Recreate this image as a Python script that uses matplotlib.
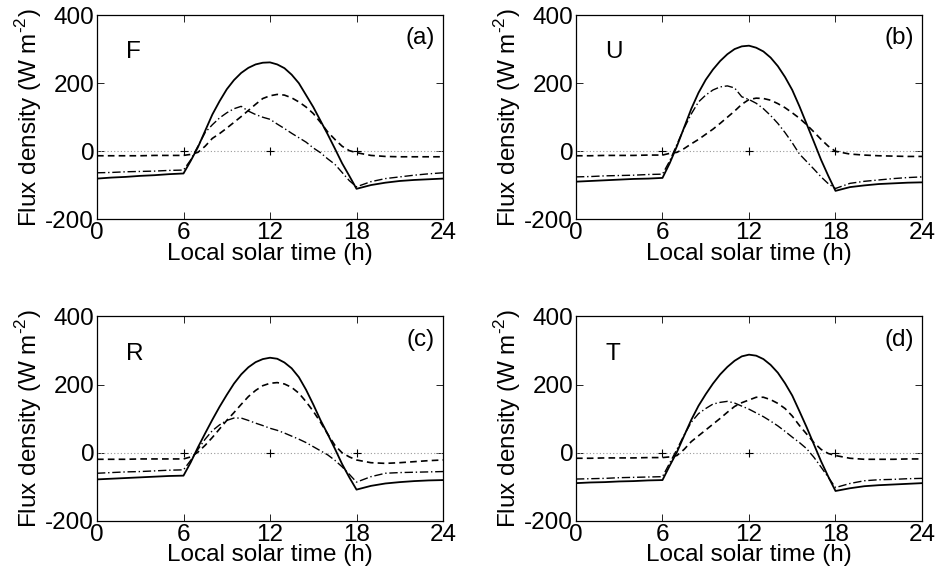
import numpy as np
import matplotlib
matplotlib.use("Agg")
import matplotlib.pyplot as plt

plt.rcParams['font.family'] = ['Liberation Sans', 'DejaVu Sans']
plt.rcParams['axes.unicode_minus'] = False
plt.rcParams['mathtext.fontset'] = 'custom'
plt.rcParams['mathtext.rm'] = 'Liberation Sans'

# hora solar local: cada hora de noche, cada media hora de día
horas = [0, 1, 2, 3, 4, 5, 6,
         6.5, 7, 7.5, 8, 8.5, 9, 9.5, 10, 10.5, 11, 11.5, 12,
         12.5, 13, 13.5, 14, 14.5, 15, 15.5, 16, 16.5, 17, 17.5, 18,
         19, 20, 21, 22, 23, 24]

# (a) F
a_solida = [-80, -77, -75, -72, -70, -67, -65,
            -28, 12, 60, 108, 147, 182, 209, 230, 245, 255, 260, 261,
            255, 244, 225, 200, 165, 130, 90, 50, 8, -35, -72, -110,
            -99, -92, -87, -84, -82, -80]
a_guion = [-13, -13, -13, -13, -12, -12, -12,
           -9, -3, 15, 38, 52, 68, 85, 102, 120, 138, 155, 163,
           167, 165, 157, 145, 130, 111, 85, 57, 35, 15, 2, -4,
           -12, -15, -16, -16, -16, -16]
a_punto = [-63, -62, -60, -59, -58, -56, -55,
           -25, 15, 55, 78, 98, 113, 125, 132, 118, 108, 100, 94,
           80, 67, 53, 40, 27, 10, -4, -22, -38, -62, -86, -104,
           -89, -80, -75, -70, -66, -63]

# (b) U
b_solida = [-89, -87, -85, -83, -81, -80, -78,
            -35, 15, 70, 125, 172, 210, 240, 265, 285, 300, 308, 310,
            304, 293, 275, 250, 218, 180, 132, 80, 28, -25, -72, -116,
            -105, -100, -96, -94, -92, -91]
b_guion = [-13, -13, -12, -12, -12, -11, -11,
           -6, -3, 8, 22, 35, 50, 65, 82, 100, 118, 138, 152,
           156, 155, 150, 140, 128, 113, 97, 78, 57, 35, 15, 0,
           -8, -11, -13, -14, -15, -15]
b_punto = [-75, -74, -72, -71, -70, -68, -67,
           -28, 20, 68, 110, 145, 165, 180, 189, 192, 186, 160, 152,
           141, 125, 105, 82, 55, 25, -8, -30, -52, -75, -95, -109,
           -94, -88, -84, -80, -77, -75]

# (c) R
c_solida = [-78, -76, -74, -72, -70, -68, -67,
            -28, 16, 57, 97, 135, 170, 203, 230, 251, 266, 275, 279,
            276, 265, 248, 222, 185, 142, 96, 55, 12, -33, -72, -108,
            -97, -90, -86, -83, -81, -80]
c_guion = [-19, -19, -19, -18, -18, -18, -18,
           -12, 2, 22, 45, 70, 95, 118, 142, 165, 183, 197, 204,
           206, 202, 192, 175, 150, 122, 90, 55, 22, 0, -12, -21,
           -29, -31, -29, -26, -23, -21]
c_punto = [-60, -58, -56, -55, -53, -51, -50,
           -22, 10, 40, 65, 82, 95, 102, 102, 95, 87, 80, 72,
           66, 58, 49, 40, 30, 18, 6, -6, -22, -41, -63, -86,
           -70, -60, -58, -57, -56, -55]

# (d) T
d_solida = [-89, -87, -86, -84, -83, -81, -80,
            -38, 2, 50, 97, 138, 172, 203, 230, 252, 270, 283, 288,
            285, 275, 258, 235, 204, 168, 122, 75, 25, -25, -70, -112,
            -104, -98, -95, -93, -91, -89]
d_guion = [-16, -16, -15, -15, -15, -14, -14,
           -12, -8, 10, 33, 50, 67, 84, 101, 119, 136, 147, 155,
           163, 163, 156, 145, 130, 108, 80, 55, 30, 10, -2, -8,
           -16, -19, -19, -19, -18, -18]
d_punto = [-77, -76, -75, -73, -72, -71, -70,
           -30, 10, 52, 90, 115, 130, 143, 148, 151, 146, 137, 128,
           117, 106, 93, 79, 63, 46, 30, 12, -13, -42, -72, -102,
           -90, -82, -79, -78, -76, -75]

paneles = [
    ("F", "(a)", a_solida, a_guion, a_punto),
    ("U", "(b)", b_solida, b_guion, b_punto),
    ("R", "(c)", c_solida, c_guion, c_punto),
    ("T", "(d)", d_solida, d_guion, d_punto),
]

# posiciones de los ejes en fracción de figura
posiciones = [
    [0.1033, 0.6196, 0.3685, 0.3544],
    [0.6134, 0.6196, 0.3685, 0.3544],
    [0.1033, 0.0971, 0.3685, 0.3544],
    [0.6134, 0.0971, 0.3685, 0.3544],
]

fs = 17.5
fig = plt.figure(figsize=(9.39, 5.77), dpi=100)

for (nombre, letra, sol, gui, pun), pos in zip(paneles, posiciones):
    ax = fig.add_axes(pos)
    ax.plot([0, 24], [0, 0], color='0.6', linestyle=(0, (1, 2)), linewidth=0.8)
    ax.plot([6, 12, 18], [0, 0, 0], linestyle='none', marker='+', color='k',
            markersize=6, markeredgewidth=0.8)
    ax.plot(horas, sol, color='k', linewidth=1.3)
    ax.plot(horas, gui, color='k', linewidth=1.2, linestyle=(0, (4, 2.5)))
    ax.plot(horas, pun, color='k', linewidth=1.0, linestyle=(0, (6, 2, 1, 2)))
    ax.set_xlim(0, 24)
    ax.set_ylim(-200, 400)
    ax.set_xticks([0, 6, 12, 18, 24])
    ax.set_yticks([-200, 0, 200, 400])
    ax.tick_params(direction='in', top=True, right=True, length=5, width=0.6,
                   labelsize=fs, pad=2)
    for s in ax.spines.values():
        s.set_linewidth(0.9)
    ax.set_xlabel("Local solar time (h)", fontsize=fs, labelpad=-1)
    ax.set_ylabel("Flux density (W m$^{\\mathrm{‐2}}$)", fontsize=fs, labelpad=1)
    ax.text(0.084, 0.817, nombre, transform=ax.transAxes, fontsize=fs, ha='left', va='center')
    ax.text(0.976, 0.886, letra, transform=ax.transAxes, fontsize=fs, ha='right', va='center')

fig.savefig("out.png", dpi=100)
